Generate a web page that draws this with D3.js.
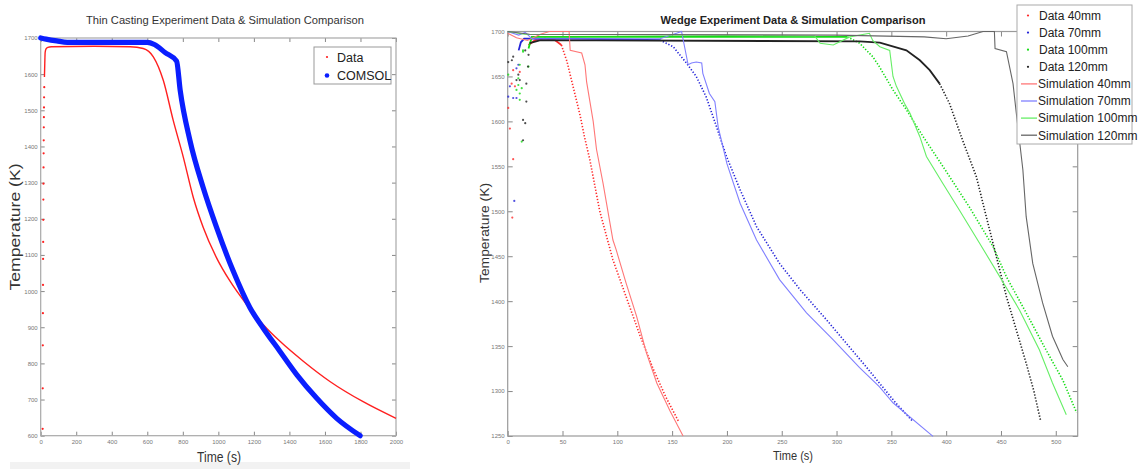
<!DOCTYPE html>
<html>
<head>
<meta charset="utf-8">
<script src="https://cdn.jsdelivr.net/npm/d3@7"></script>
<style>
  body { margin: 0; background: #fff; }
  svg { display: block; font-family: "Liberation Sans", Arial, sans-serif; }
</style>
</head>
<body>
<svg id="chart" width="1141" height="469"></svg>
<script>
// ---- thin casting (left) : [time s, temperature K] ----
const thinDataRise = [[11,619],[11.5,731],[12,850],[12.5,939],[13,1017],[13.5,1089],[14,1136],[14.5,1197],
  [15,1253],[15.5,1297],[16,1342],[16.5,1381],[17,1417],[17.5,1453],[18,1481],[18.5,1508],[19,1536],[20,1564]];
const thinDataCurve = [[21,1592],[23,1630],[25,1660],[30,1670],[40,1674],[60,1676],[300,1677],[503,1676],
  [577,1671],[634,1648],[690,1583],[746,1472],[803,1370],[859,1259],[915,1176],[990,1092],[1065,1028],
  [1159,963],[1253,907],[1347,861],[1478,806],[1628,750],[1815,694],[2000,648]];
const thinComsol = [[0,1700],[30,1697],[90,1692],[150,1688],[600,1688],[640,1682],[700,1660],[765,1636],
  [785,1556],[840,1417],[914,1287],[990,1176],[1083,1056],[1178,954],[1252,898],[1347,833],[1441,769],
  [1553,704],[1666,648],[1798,600]];
const thinXTicks = d3.range(0, 2001, 200);
const thinYTicks = d3.range(600, 1701, 100);

// ---- wedge (right) : [time s, temperature K] ----
const wedgeData40 = [[19,1685],[25,1690.5],[34,1692],[43,1690.5],[49,1685],[52,1674],[54,1667],[57,1652],
  [60,1637],[63,1622],[66,1607],[70,1583],[75,1557],[84,1500],[96,1446],[108,1405],[120.6,1362],
  [132.6,1325],[144,1294],[156,1266]];
const wedgeScatter40 = [[0.5,1615],[2,1592],[3.6,1642],[4.2,1493],[5,1558],[5,1657],[6.6,1639],[11,1655]];
const wedgeSim40 = [[0,1698],[8,1693],[18,1690],[30,1697],[38,1700],[56,1700],[57,1679],[67.5,1676],
  [70.5,1663],[72,1644],[75,1622],[78,1600],[81,1569],[87,1531],[96,1468],[99,1457],[108,1420],
  [117.6,1383],[126.7,1342],[136,1309],[148,1278],[160,1250]];

const wedgeData70 = [[10,1679],[12,1688],[15,1692],[60,1692],[139,1690.5],[151,1683],[163,1665],[172,1650],
  [181,1627.5],[190.5,1594],[199.6,1561],[212,1524],[227,1483],[248,1442],[266.6,1413],[291,1379],
  [309,1353],[327,1327],[339,1309],[354.6,1286],[369.7,1266]];
const wedgeScatter70 = [[0.5,1627.5],[2,1639],[5,1626],[6,1511.5],[8,1626],[8,1659],[9.7,1663]];
const wedgeSim70 = [[0,1700],[10,1696],[16,1699],[22,1692],[139,1692],[154,1698],[158.6,1700],[164.6,1663],
  [167.7,1665],[172,1666],[177,1665],[178,1653.5],[184,1631],[189,1622],[192,1594],[200,1553],[212,1509],
  [227,1468],[248,1424],[272.6,1387],[297,1357],[321,1326],[339,1305],[351.5,1287],[388,1249.5]];

const wedgeData100 = [[19,1681],[22,1694],[310,1694],[321,1687],[333,1672],[339,1661],[351.5,1635],
  [363.7,1613],[379,1583],[397,1550],[421,1505],[442.7,1461],[455,1427],[473,1387],[491,1346],
  [506.5,1312],[519,1276]];
const wedgeScatter100 = [[0.5,1652],[8,1635],[9.7,1640.5],[9.7,1648],[11,1624],[11,1631],[11,1663],
  [12.8,1637],[12.8,1577.5],[14,1679],[14,1677.5],[19,1661]];
const wedgeSim100 = [[0,1700],[15,1697],[280,1695],[285,1687],[297,1685],[312,1694],[330,1698],[333,1690],
  [339.5,1683],[348.5,1679],[351.5,1650],[354.6,1639],[362,1620],[367,1609],[376,1583],[382,1561],
  [397,1531],[412,1501.5],[430.5,1464.5],[449,1427],[467,1390],[485,1346],[497,1309],[509.6,1273.6]];

const wedgeData120 = [[20,1687],[30,1690.5],[321,1689],[339.5,1687.6],[363.7,1679],[376,1668],[385,1657],
  [394,1642],[403,1620],[415,1579],[427.5,1538.6],[436.6,1494],[445.8,1449.6],[455,1405],[464,1368],
  [473,1331],[480,1300],[486,1268]];
const wedgeScatter120 = [[0.5,1666],[3.8,1668],[5,1672],[8,1646],[9.7,1652],[11,1646],[14,1579],[14,1601.6],
  [16,1598],[16,1679],[17,1642],[17,1622],[18.5,1661],[19,1674]];
const wedgeSim120 = [[0,1700],[20,1697],[300,1696],[380,1694],[400,1692],[420,1695],[433.6,1700],[444,1700],
  [444.6,1681],[455,1677.5],[461,1642],[464,1609],[470,1546],[473,1494],[479,1442],[488,1398],[497,1361],
  [506.5,1335],[511,1327]];
const wedgeXTicks = d3.range(0, 501, 50);
const wedgeYTicks = d3.range(1250, 1701, 50);
const wedgeLabels = ["Data 40mm","Data 70mm","Data 100mm","Data 120mm",
  "Simulation 40mm","Simulation 70mm","Simulation 100mm","Simulation 120mm"];

const svg = d3.select("#chart");

// faint grey strip under the left figure
svg.append("rect").attr("x", 10).attr("y", 462).attr("width", 400).attr("height", 7).attr("fill", "#f2f2f2");

// matlab-style box with inward ticks on all four sides
function drawAxes(x, y, xTicks, yTicks, tick, fs, boxColor) {
  const [x0, x1] = x.range(), [y0, y1] = y.range();
  const fmt = d3.format("d");
  const g = svg.append("g");
  g.append("g").attr("transform", `translate(0,${y0})`)
    .call(d3.axisBottom(x).tickValues(xTicks).tickFormat(fmt).tickSizeInner(-tick).tickSizeOuter(0).tickPadding(4));
  g.append("g").attr("transform", `translate(${x0},0)`)
    .call(d3.axisLeft(y).tickValues(yTicks).tickFormat(fmt).tickSizeInner(-tick).tickSizeOuter(0).tickPadding(3));
  g.append("g").attr("transform", `translate(0,${y1})`)
    .call(d3.axisTop(x).tickValues(xTicks).tickSizeInner(-tick).tickSizeOuter(0).tickFormat(""));
  g.append("g").attr("transform", `translate(${x1},0)`)
    .call(d3.axisRight(y).tickValues(yTicks).tickSizeInner(-tick).tickSizeOuter(0).tickFormat(""));
  g.selectAll(".domain").remove();
  g.selectAll(".tick line").attr("stroke", "#888");
  g.selectAll(".tick text").attr("fill", "#777").style("font-size", fs + "px");
  g.append("rect").attr("x", x0).attr("y", y1).attr("width", x1 - x0).attr("height", y0 - y1)
    .attr("fill", "none").attr("stroke", boxColor).attr("stroke-width", 1.2);
}

// ================= left chart =================
const xL = d3.scaleLinear().domain([0, 2000]).range([40.7, 396]);
const yL = d3.scaleLinear().domain([600, 1700]).range([435.7, 38]);
drawAxes(xL, yL, thinXTicks, thinYTicks, 4, 6, "#a8a8a8");

const lineL = d3.line().x(d => xL(d[0])).y(d => yL(d[1])).curve(d3.curveMonotoneX);

svg.append("path").datum(thinDataCurve).attr("d", lineL)
  .attr("fill", "none").attr("stroke", "#ff2020").attr("stroke-width", 1.4);
svg.append("g").selectAll("circle").data(thinDataRise).join("circle")
  .attr("cx", d => xL(d[0])).attr("cy", d => yL(d[1])).attr("r", 1.1).attr("fill", "#ff2020");
svg.append("path").datum(thinComsol).attr("d", lineL)
  .attr("fill", "none").attr("stroke", "#0a1eff").attr("stroke-width", 5.2)
  .attr("stroke-linejoin", "round").attr("stroke-linecap", "round");

svg.append("text").attr("x", 225).attr("y", 24).attr("text-anchor", "middle")
  .attr("textLength", 278).attr("lengthAdjust", "spacingAndGlyphs")
  .style("font-size", "11.5px").attr("fill", "#333")
  .text("Thin Casting Experiment Data & Simulation Comparison");
svg.append("text").attr("transform", "translate(20,227) rotate(-90)").attr("text-anchor", "middle")
  .attr("textLength", 127).attr("lengthAdjust", "spacingAndGlyphs")
  .style("font-size", "15px").attr("fill", "#333").text("Temperature (K)");
svg.append("text").attr("x", 219).attr("y", 462).attr("text-anchor", "middle")
  .attr("textLength", 44).attr("lengthAdjust", "spacingAndGlyphs")
  .style("font-size", "14px").attr("fill", "#333").text("Time (s)");

// left legend
const legL = svg.append("g");
legL.append("rect").attr("x", 314).attr("y", 47).attr("width", 77).attr("height", 37)
  .attr("fill", "#fff").attr("stroke", "#999");
[["Data", "#ff2020", 1.1, 57], ["COMSOL", "#0a1eff", 2.3, 75.5]].forEach(([t, c, r, yy]) => {
  legL.append("circle").attr("cx", 327).attr("cy", yy).attr("r", r).attr("fill", c);
  legL.append("text").attr("x", 337).attr("y", yy).attr("dy", "0.36em")
    .style("font-size", "12.5px").attr("fill", "#222").text(t);
});

// ================= right chart =================
const xR = d3.scaleLinear().domain([0, 520]).range([507.7, 1077.7]);
const yR = d3.scaleLinear().domain([1250, 1700]).range([436, 31.5]);
drawAxes(xR, yR, wedgeXTicks, wedgeYTicks, 5, 6, "#9a9a9a");

const lineR = d3.line().x(d => xR(d[0])).y(d => yR(d[1]));
const wedgeSeries = [
  { data: wedgeData40, scatter: wedgeScatter40, sim: wedgeSim40, dense: 49, dc: "#ff2a2a", sc: "#ff7777" },
  { data: wedgeData70, scatter: wedgeScatter70, sim: wedgeSim70, dense: 145, dc: "#2424d8", sc: "#8080ff" },
  { data: wedgeData100, scatter: wedgeScatter100, sim: wedgeSim100, dense: 315, dc: "#14dc14", sc: "#66ee66" },
  { data: wedgeData120, scatter: wedgeScatter120, sim: wedgeSim120, dense: 394, dc: "#222", sc: "#666" }
];

// experimental data: dense plateau reads as a line, the cooling part as dots
wedgeSeries.forEach(s => {
  const i = s.data.findIndex(d => d[0] > s.dense);
  svg.append("path").attr("d", lineR(s.data.slice(0, i)))
    .attr("fill", "none").attr("stroke", s.dc).attr("stroke-width", 1.8);
  svg.append("path").attr("d", lineR(s.data.slice(i - 1)))
    .attr("fill", "none").attr("stroke", s.dc).attr("stroke-width", 1.6)
    .attr("stroke-dasharray", "1.3,1.8");
  svg.append("g").selectAll("circle").data(s.scatter).join("circle")
    .attr("cx", d => xR(d[0])).attr("cy", d => yR(d[1])).attr("r", 1.1).attr("fill", s.dc).attr("opacity", 0.8);
});
// simulations on top
wedgeSeries.forEach(s => {
  svg.append("path").attr("d", lineR(s.sim))
    .attr("fill", "none").attr("stroke", s.sc).attr("stroke-width", 1.1);
});

svg.append("text").attr("x", 793).attr("y", 24).attr("text-anchor", "middle")
  .attr("textLength", 265).attr("lengthAdjust", "spacingAndGlyphs")
  .style("font-size", "11.5px").style("font-weight", "bold").attr("fill", "#222")
  .text("Wedge Experiment Data & Simulation Comparison");
svg.append("text").attr("transform", "translate(489,233) rotate(-90)").attr("text-anchor", "middle")
  .attr("textLength", 100).attr("lengthAdjust", "spacingAndGlyphs")
  .style("font-size", "13.5px").attr("fill", "#333").text("Temperature (K)");
svg.append("text").attr("x", 793).attr("y", 460).attr("text-anchor", "middle")
  .attr("textLength", 40).attr("lengthAdjust", "spacingAndGlyphs")
  .style("font-size", "13.5px").attr("fill", "#333").text("Time (s)");

// right legend
const legR = svg.append("g");
legR.append("rect").attr("x", 1017).attr("y", 5).attr("width", 115).attr("height", 139)
  .attr("fill", "#fff").attr("stroke", "#aaa");
wedgeLabels.forEach((t, k) => {
  const yy = 15.5 + k * 17.1;
  const s = wedgeSeries[k % 4];
  if (k < 4) {
    legR.append("circle").attr("cx", 1028).attr("cy", yy).attr("r", 1.1).attr("fill", s.dc);
  } else {
    legR.append("line").attr("x1", 1021).attr("x2", 1037).attr("y1", yy).attr("y2", yy)
      .attr("stroke", s.sc).attr("stroke-width", 1.3);
  }
  legR.append("text").attr("x", k < 4 ? 1039 : 1038).attr("y", yy).attr("dy", "0.36em")
    .style("font-size", "12px").attr("fill", "#222").text(t);
});
</script>
</body>
</html>
